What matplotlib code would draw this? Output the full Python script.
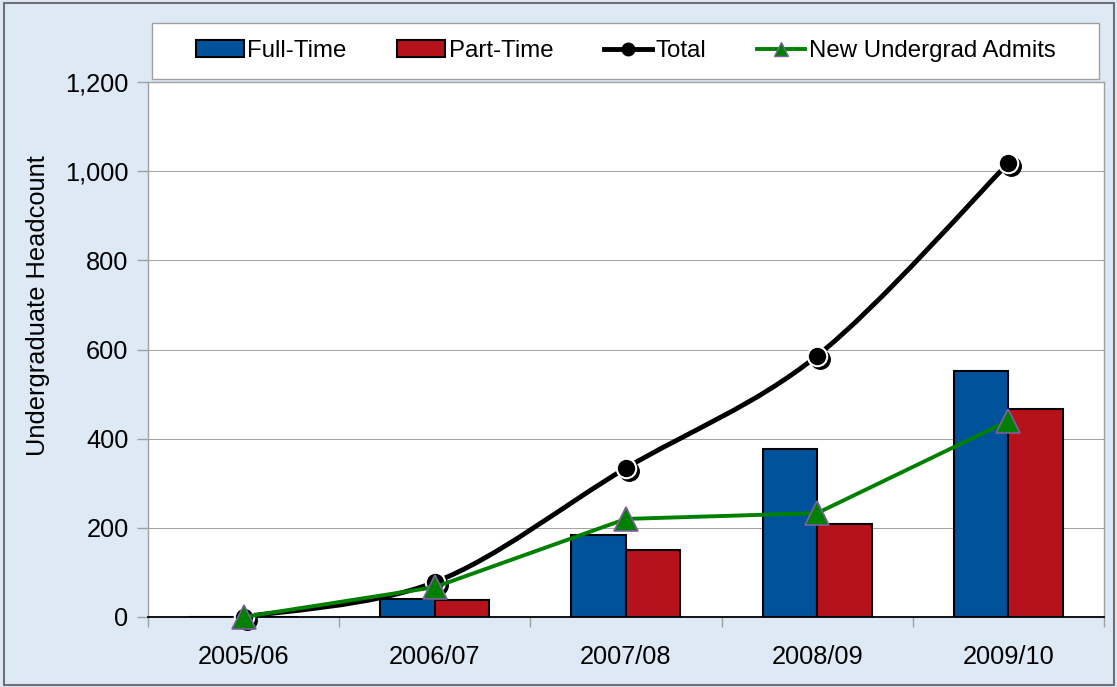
import matplotlib
matplotlib.use('Agg')
import matplotlib.pyplot as plt
import numpy as np
from matplotlib.path import Path
from matplotlib.patches import PathPatch, Rectangle, Patch
from matplotlib.lines import Line2D
from matplotlib.ticker import FuncFormatter, FixedLocator
import matplotlib.transforms as mtransforms

plt.rcParams['font.family'] = ['Liberation Sans', 'DejaVu Sans']

years = ['2005/06', '2006/07', '2007/08', '2008/09', '2009/10']
full_time = [0, 40, 184, 377, 552]
part_time = [0, 38, 150, 209, 466]
total = [0, 78, 334, 586, 1018]
new_admits = [0, 67, 220, 233, 440]

blue = '#00529b'
red = '#b5121b'
green = '#008000'
purple = '#7f5fa0'
bg = '#dde9f5'
fs = 18.3
fs_leg = 17.3


def smooth_path(xs, ys):
    # excel style smoothed line as bezier segments
    pts = np.column_stack([xs, ys]).astype(float)
    n = len(pts)
    verts = [pts[0]]
    codes = [Path.MOVETO]
    for i in range(n - 1):
        p0 = pts[i - 1] if i > 0 else pts[i]
        p1 = pts[i]
        p2 = pts[i + 1]
        p3 = pts[i + 2] if i + 2 < n else pts[i + 1]
        c1 = p1 + (p2 - p0) / 6.0
        c2 = p2 - (p3 - p1) / 6.0
        verts += [c1, c2, p2]
        codes += [Path.CURVE4] * 3
    return Path(verts, codes)


fig = plt.figure(figsize=(11.17, 6.87), dpi=100)
fig.patch.set_facecolor(bg)
ax = fig.add_axes([0.1325, 0.1019, 0.8558, 0.7787])
ax.set_facecolor('white')

x = np.arange(len(years))
w = 0.285
ax.bar(x - w / 2, full_time, w, color=blue, edgecolor='black', linewidth=1.5, zorder=2)
ax.bar(x + w / 2, part_time, w, color=red, edgecolor='black', linewidth=1.5, zorder=2)

# total line (smoothed)
ax.add_patch(PathPatch(smooth_path(x, total), facecolor='none', edgecolor='black',
                       lw=3.5, zorder=3, capstyle='round', joinstyle='round'))
shadow = mtransforms.offset_copy(ax.transData, fig=fig, x=3, y=-3, units='dots')
ax.plot(x, total, linestyle='none', marker='o', ms=14, mfc='black', mec='black',
        transform=shadow, zorder=3.1, clip_on=False)
ax.plot(x, total, linestyle='none', marker='o', ms=14, mfc='black', mec='white',
        mew=1.5, zorder=3.2, clip_on=False)

# new admits
ax.plot(x, new_admits, color=green, lw=2.8, marker='^', ms=17, mfc=green, mec=purple,
        mew=1.2, zorder=4, clip_on=False)

ax.set_xlim(-0.5, len(years) - 0.5)
ax.set_ylim(0, 1200)
ax.set_yticks(np.arange(0, 1201, 200))
ax.yaxis.set_major_formatter(FuncFormatter(lambda v, p: f'{int(v):,}'))
ax.yaxis.grid(True, color='#a0a0a0', lw=0.7, zorder=0)
ax.set_axisbelow(True)

ax.set_xticks(x)
ax.set_xticklabels(years)
ax.tick_params(axis='x', which='major', length=0, pad=20, labelsize=fs)
ax.xaxis.set_minor_locator(FixedLocator(np.arange(-0.5, len(years), 1.0)))
ax.tick_params(axis='x', which='minor', length=7, color='#a0a0a0', width=1)
ax.tick_params(axis='y', length=8, color='#a0a0a0', width=1, pad=6, labelsize=fs)

for s in ['left', 'top', 'right']:
    ax.spines[s].set_color('#a0a0a0')
    ax.spines[s].set_linewidth(1)
ax.spines['bottom'].set_color('black')
ax.spines['bottom'].set_linewidth(1.3)

ax.set_ylabel('Undergraduate Headcount', fontsize=fs)
ax.yaxis.set_label_coords(-0.102, 0.583)

# legend box
fig.patches.append(Rectangle((152 / 1117, 1 - 79 / 687), (1099 - 152) / 1117, 56 / 687,
                             transform=fig.transFigure, facecolor='white',
                             edgecolor='#a0a0a0', lw=1, zorder=1))
handles = [
    Patch(facecolor=blue, edgecolor='black', lw=1.5),
    Patch(facecolor=red, edgecolor='black', lw=1.5),
    Line2D([], [], color='black', lw=3.5, marker='o', ms=9, mfc='black', mec='black'),
    Line2D([], [], color=green, lw=2.8, marker='^', ms=10, mfc=green, mec=purple, mew=1),
]
labels = ['Full-Time', 'Part-Time', 'Total', 'New Undergrad Admits']
fig.legend(handles, labels, loc='center', ncol=4, frameon=False, fontsize=fs_leg,
           bbox_to_anchor=((152 + 1099) / 2 / 1117, 1 - 51 / 687),
           handlelength=2.0, handletextpad=0.15, columnspacing=2.1)

# outer border
fig.patches.append(Rectangle((4 / 1117, 2 / 687), 1110 / 1117, 682 / 687,
                             transform=fig.transFigure, facecolor='none',
                             edgecolor='#707070', lw=1.5, zorder=0))

fig.savefig('out.png', dpi=100, facecolor=bg)
